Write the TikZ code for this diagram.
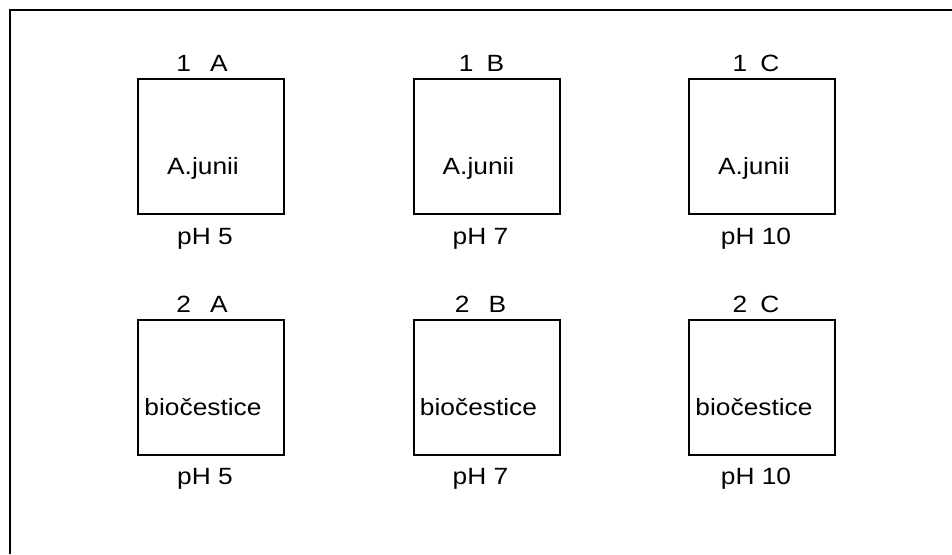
\documentclass[tikz,border=0pt]{standalone}
\usepackage{fontspec}
\setmainfont{Liberation Sans}[FakeStretch=1.12]
\begin{document}
\begin{tikzpicture}[x=1pt,y=-1pt,
  cell/.style={draw,line width=2pt,minimum width=146pt,minimum height=135pt,inner sep=0pt},
  lab/.style={anchor=base,inner sep=0pt,font=\fontsize{23.5pt}{28pt}\selectfont}]
\useasboundingbox (0,0) rectangle (952,554);
\coordinate (fr) at (952,10);
\coordinate (fc) at (10,10);
\coordinate (fb) at (10,554);
\draw[line width=2pt] (fr) -- (fc) -- (fb);
\foreach \r/\y/\t in {1/146.5/A.junii, 2/387.5/biočestice}{
  \foreach \c/\x in {A/211, B/486.5, C/762}{
    \node[cell] (b\r\c) at (\x,\y) {};
    \node[lab] (t\r\c) at ([xshift=-8pt,yshift=-28pt]b\r\c.center) {\t};
  }
}
\node[lab] (h1A) at ([xshift=-9pt,yshift=7pt]b1A.north) {1\hspace{19pt}A};
\node[lab] (h1B) at ([xshift=-5pt,yshift=7pt]b1B.north) {1\hspace{13pt}B};
\node[lab] (h1C) at ([xshift=-6pt,yshift=7pt]b1C.north) {1\hspace{13pt}C};
\node[lab] (h2A) at ([xshift=-9pt,yshift=7pt]b2A.north) {2\hspace{19pt}A};
\node[lab] (h2B) at ([xshift=-6pt,yshift=7pt]b2B.north) {2\hspace{19pt}B};
\node[lab] (h2C) at ([xshift=-6pt,yshift=7pt]b2C.north) {2\hspace{13pt}C};
\node[lab] (p1A) at ([xshift=-6pt,yshift=-29pt]b1A.south) {pH 5};
\node[lab] (p1B) at ([xshift=-6pt,yshift=-29pt]b1B.south) {pH 7};
\node[lab] (p1C) at ([xshift=-6pt,yshift=-29pt]b1C.south) {pH 10};
\node[lab] (p2A) at ([xshift=-6pt,yshift=-28pt]b2A.south) {pH 5};
\node[lab] (p2B) at ([xshift=-6pt,yshift=-28pt]b2B.south) {pH 7};
\node[lab] (p2C) at ([xshift=-6pt,yshift=-28pt]b2C.south) {pH 10};
\end{tikzpicture}
\end{document}
